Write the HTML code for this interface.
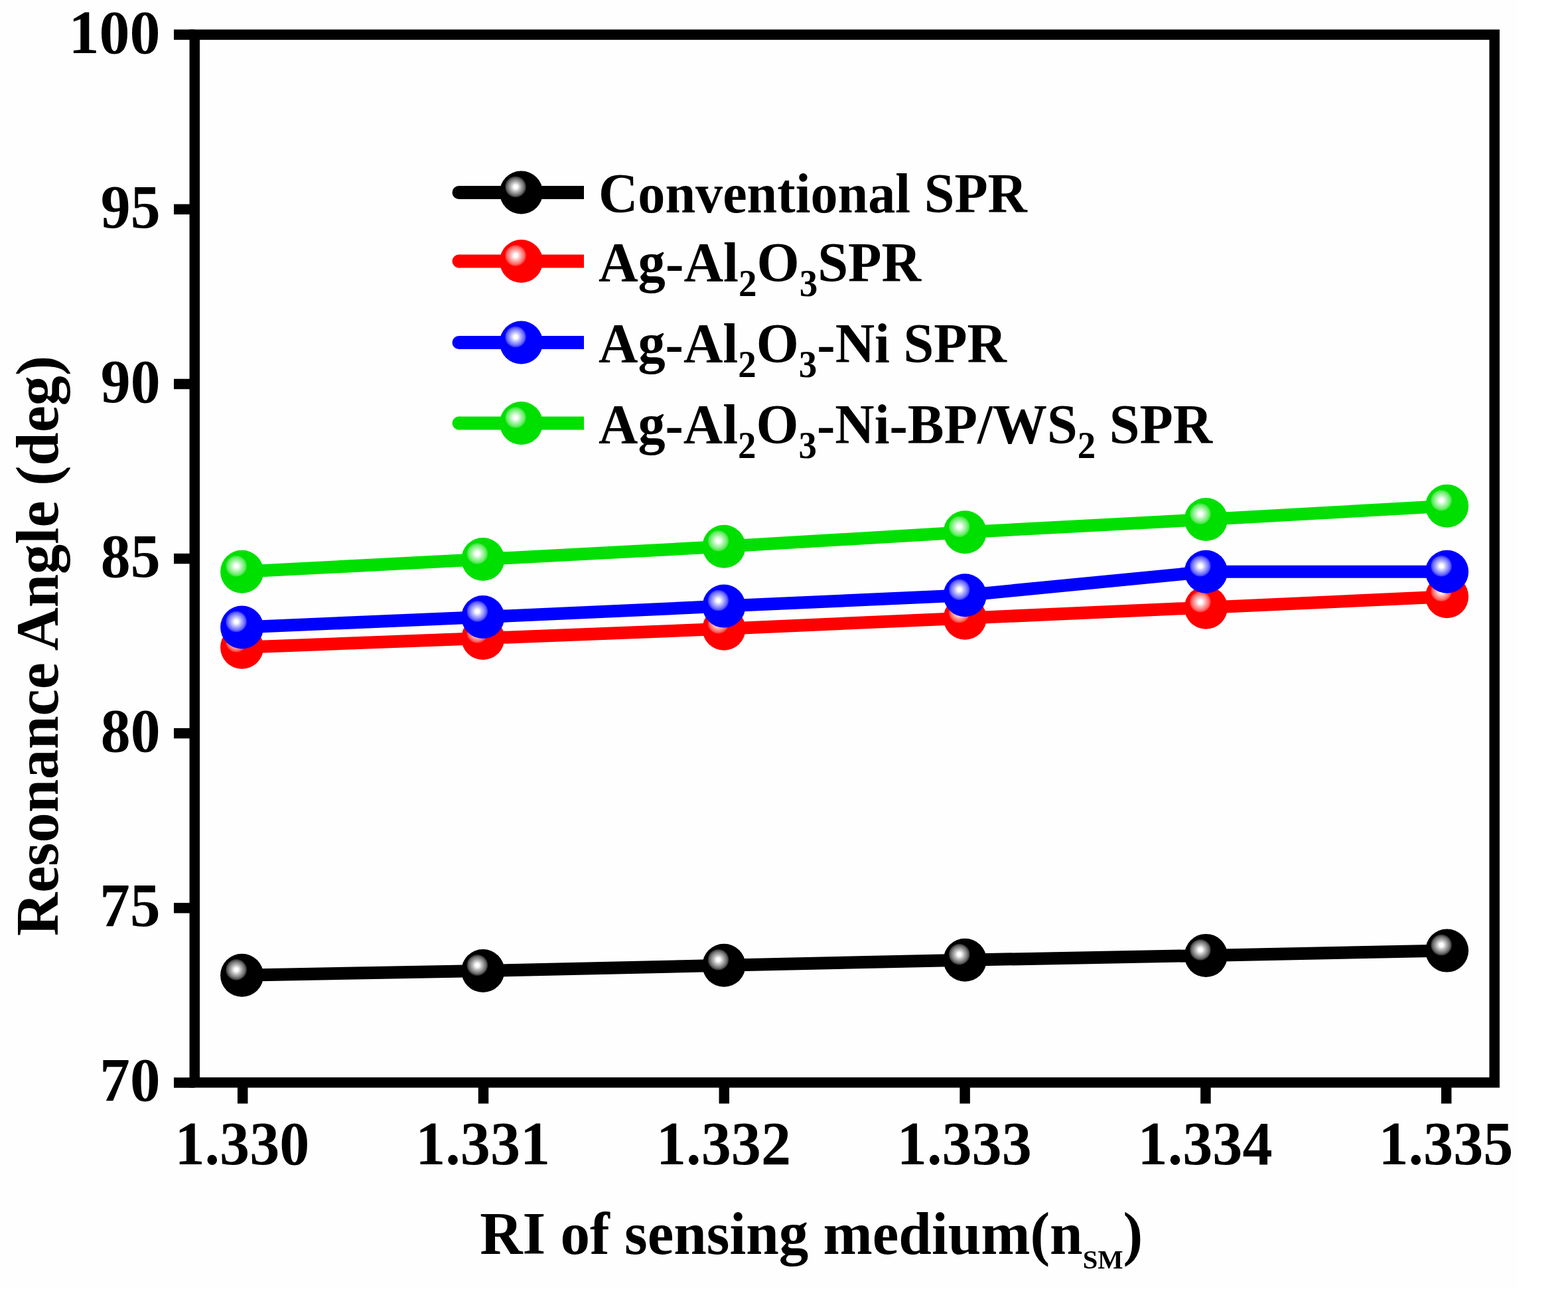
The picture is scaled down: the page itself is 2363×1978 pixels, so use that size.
<!DOCTYPE html>
<html><head><meta charset="utf-8"><title>Resonance Angle vs RI</title>
<style>html,body{margin:0;padding:0;background:#fff;} svg{display:block}</style></head>
<body><svg width="2363" height="1978" viewBox="0 0 2363 1978">
<rect width="2363" height="1978" fill="#fff"/>
<rect width="2288" height="1940" fill="#fefefe"/>
<defs>
<radialGradient id="hl" cx="0.5" cy="0.5" r="0.5">
<stop offset="0" stop-color="#fff" stop-opacity="1"/>
<stop offset="0.17" stop-color="#fff" stop-opacity="1"/>
<stop offset="0.3" stop-color="#fff" stop-opacity="0.87"/>
<stop offset="0.46" stop-color="#fff" stop-opacity="0.72"/>
<stop offset="0.62" stop-color="#fff" stop-opacity="0.58"/>
<stop offset="0.78" stop-color="#fff" stop-opacity="0.44"/>
<stop offset="0.92" stop-color="#fff" stop-opacity="0.27"/>
<stop offset="1" stop-color="#fff" stop-opacity="0.1"/>
</radialGradient>
</defs>
<polyline points="364.6,1469.3 727.8,1462.5 1091.0,1454.3 1454.2,1446.2 1817.4,1439.4 2180.6,1432.1" fill="none" stroke="#000000" stroke-width="19" stroke-linejoin="round"/>
<circle cx="364.6" cy="1469.3" r="32.5" fill="#000000"/><circle cx="356.1" cy="1460.8" r="16" fill="url(#hl)"/>
<circle cx="727.8" cy="1462.5" r="32.5" fill="#000000"/><circle cx="719.3" cy="1454.0" r="16" fill="url(#hl)"/>
<circle cx="1091.0" cy="1454.3" r="32.5" fill="#000000"/><circle cx="1082.5" cy="1445.8" r="16" fill="url(#hl)"/>
<circle cx="1454.2" cy="1446.2" r="32.5" fill="#000000"/><circle cx="1445.7" cy="1437.7" r="16" fill="url(#hl)"/>
<circle cx="1817.4" cy="1439.4" r="32.5" fill="#000000"/><circle cx="1808.9" cy="1430.9" r="16" fill="url(#hl)"/>
<circle cx="2180.6" cy="1432.1" r="32.5" fill="#000000"/><circle cx="2172.1" cy="1423.6" r="16" fill="url(#hl)"/>
<polyline points="364.6,975.3 727.8,961.5 1091.0,947.3 1454.2,931.2 1817.4,915.2 2180.6,898.8" fill="none" stroke="#ff0000" stroke-width="19" stroke-linejoin="round"/>
<circle cx="364.6" cy="975.3" r="32.5" fill="#ff0000"/><circle cx="356.1" cy="966.8" r="16" fill="url(#hl)"/>
<circle cx="727.8" cy="961.5" r="32.5" fill="#ff0000"/><circle cx="719.3" cy="953.0" r="16" fill="url(#hl)"/>
<circle cx="1091.0" cy="947.3" r="32.5" fill="#ff0000"/><circle cx="1082.5" cy="938.8" r="16" fill="url(#hl)"/>
<circle cx="1454.2" cy="931.2" r="32.5" fill="#ff0000"/><circle cx="1445.7" cy="922.7" r="16" fill="url(#hl)"/>
<circle cx="1817.4" cy="915.2" r="32.5" fill="#ff0000"/><circle cx="1808.9" cy="906.7" r="16" fill="url(#hl)"/>
<circle cx="2180.6" cy="898.8" r="32.5" fill="#ff0000"/><circle cx="2172.1" cy="890.3" r="16" fill="url(#hl)"/>
<polyline points="364.6,945.0 727.8,929.5 1091.0,913.1 1454.2,896.7 1817.4,861.3 2180.6,861.3" fill="none" stroke="#0000ff" stroke-width="19" stroke-linejoin="round"/>
<circle cx="364.6" cy="945.0" r="32.5" fill="#0000ff"/><circle cx="356.1" cy="936.5" r="16" fill="url(#hl)"/>
<circle cx="727.8" cy="929.5" r="32.5" fill="#0000ff"/><circle cx="719.3" cy="921.0" r="16" fill="url(#hl)"/>
<circle cx="1091.0" cy="913.1" r="32.5" fill="#0000ff"/><circle cx="1082.5" cy="904.6" r="16" fill="url(#hl)"/>
<circle cx="1454.2" cy="896.7" r="32.5" fill="#0000ff"/><circle cx="1445.7" cy="888.2" r="16" fill="url(#hl)"/>
<circle cx="1817.4" cy="861.3" r="32.5" fill="#0000ff"/><circle cx="1808.9" cy="852.8" r="16" fill="url(#hl)"/>
<circle cx="2180.6" cy="861.3" r="32.5" fill="#0000ff"/><circle cx="2172.1" cy="852.8" r="16" fill="url(#hl)"/>
<polyline points="364.6,861.3 727.8,842.5 1091.0,823.3 1454.2,801.8 1817.4,782.5 2180.6,762.3" fill="none" stroke="#00e000" stroke-width="19" stroke-linejoin="round"/>
<circle cx="364.6" cy="861.3" r="32.5" fill="#00e000"/><circle cx="356.1" cy="852.8" r="16" fill="url(#hl)"/>
<circle cx="727.8" cy="842.5" r="32.5" fill="#00e000"/><circle cx="719.3" cy="834.0" r="16" fill="url(#hl)"/>
<circle cx="1091.0" cy="823.3" r="32.5" fill="#00e000"/><circle cx="1082.5" cy="814.8" r="16" fill="url(#hl)"/>
<circle cx="1454.2" cy="801.8" r="32.5" fill="#00e000"/><circle cx="1445.7" cy="793.3" r="16" fill="url(#hl)"/>
<circle cx="1817.4" cy="782.5" r="32.5" fill="#00e000"/><circle cx="1808.9" cy="774.0" r="16" fill="url(#hl)"/>
<circle cx="2180.6" cy="762.3" r="32.5" fill="#00e000"/><circle cx="2172.1" cy="753.8" r="16" fill="url(#hl)"/>
<rect x="293.3" y="52.2" width="1958.9" height="1578.6" fill="none" stroke="#000" stroke-width="15.5"/>
<line x1="262" y1="1631.0" x2="293.3" y2="1631.0" stroke="#000" stroke-width="15.5"/>
<text transform="translate(241.5,1658.3) scale(0.9800,1)" text-anchor="end" style="font-family:'Liberation Serif','Times New Roman',serif;font-weight:bold;font-size:93px">70</text>
<line x1="262" y1="1367.9" x2="293.3" y2="1367.9" stroke="#000" stroke-width="15.5"/>
<text transform="translate(241.5,1395.2) scale(0.9800,1)" text-anchor="end" style="font-family:'Liberation Serif','Times New Roman',serif;font-weight:bold;font-size:93px">75</text>
<line x1="262" y1="1104.7" x2="293.3" y2="1104.7" stroke="#000" stroke-width="15.5"/>
<text transform="translate(241.5,1132.0) scale(0.9650,1)" text-anchor="end" style="font-family:'Liberation Serif','Times New Roman',serif;font-weight:bold;font-size:93px">80</text>
<line x1="262" y1="841.6" x2="293.3" y2="841.6" stroke="#000" stroke-width="15.5"/>
<text transform="translate(241.5,868.9) scale(0.9650,1)" text-anchor="end" style="font-family:'Liberation Serif','Times New Roman',serif;font-weight:bold;font-size:93px">85</text>
<line x1="262" y1="578.5" x2="293.3" y2="578.5" stroke="#000" stroke-width="15.5"/>
<text transform="translate(241.5,605.8) scale(0.9650,1)" text-anchor="end" style="font-family:'Liberation Serif','Times New Roman',serif;font-weight:bold;font-size:93px">90</text>
<line x1="262" y1="315.3" x2="293.3" y2="315.3" stroke="#000" stroke-width="15.5"/>
<text transform="translate(241.5,342.6) scale(0.9650,1)" text-anchor="end" style="font-family:'Liberation Serif','Times New Roman',serif;font-weight:bold;font-size:93px">95</text>
<line x1="262" y1="52.2" x2="293.3" y2="52.2" stroke="#000" stroke-width="15.5"/>
<text transform="translate(241.5,79.5) scale(0.9900,1)" text-anchor="end" style="font-family:'Liberation Serif','Times New Roman',serif;font-weight:bold;font-size:93px">100</text>
<line x1="365.7" y1="1630.8" x2="365.7" y2="1662.5" stroke="#000" stroke-width="15.5"/>
<text transform="translate(364.9,1754.3) scale(0.9700,1)" text-anchor="middle" style="font-family:'Liberation Serif','Times New Roman',serif;font-weight:bold;font-size:93px">1.330</text>
<line x1="728.5" y1="1630.8" x2="728.5" y2="1662.5" stroke="#000" stroke-width="15.5"/>
<text transform="translate(727.7,1754.3) scale(0.9700,1)" text-anchor="middle" style="font-family:'Liberation Serif','Times New Roman',serif;font-weight:bold;font-size:93px">1.331</text>
<line x1="1091.3" y1="1630.8" x2="1091.3" y2="1662.5" stroke="#000" stroke-width="15.5"/>
<text transform="translate(1090.5,1754.3) scale(0.9700,1)" text-anchor="middle" style="font-family:'Liberation Serif','Times New Roman',serif;font-weight:bold;font-size:93px">1.332</text>
<line x1="1454.1" y1="1630.8" x2="1454.1" y2="1662.5" stroke="#000" stroke-width="15.5"/>
<text transform="translate(1453.3,1754.3) scale(0.9700,1)" text-anchor="middle" style="font-family:'Liberation Serif','Times New Roman',serif;font-weight:bold;font-size:93px">1.333</text>
<line x1="1816.9" y1="1630.8" x2="1816.9" y2="1662.5" stroke="#000" stroke-width="15.5"/>
<text transform="translate(1816.1,1754.3) scale(0.9700,1)" text-anchor="middle" style="font-family:'Liberation Serif','Times New Roman',serif;font-weight:bold;font-size:93px">1.334</text>
<line x1="2179.7" y1="1630.8" x2="2179.7" y2="1662.5" stroke="#000" stroke-width="15.5"/>
<text transform="translate(2178.9,1754.3) scale(0.9700,1)" text-anchor="middle" style="font-family:'Liberation Serif','Times New Roman',serif;font-weight:bold;font-size:93px">1.335</text>
<text transform="translate(1222.7,1888.7) scale(0.99,1)" text-anchor="middle" style="font-family:'Liberation Serif','Times New Roman',serif;font-weight:bold;font-size:90px">RI of sensing medium(n<tspan dy="22.3" style="font-size:41px">SM</tspan><tspan dy="-22.3">)</tspan></text>
<text transform="translate(86.5,973) rotate(-90) scale(1.005,1)" text-anchor="middle" style="font-family:'Liberation Serif','Times New Roman',serif;font-weight:bold;font-size:90px">Resonance Angle (deg)</text>
<line x1="691.5" y1="290" x2="880" y2="290" stroke="#000000" stroke-width="20"/>
<circle cx="691.5" cy="290" r="10" fill="#000000"/>
<circle cx="785.5" cy="290.0" r="32.5" fill="#000000"/><circle cx="777.0" cy="281.5" r="16" fill="url(#hl)"/>
<text transform="translate(902.0,320.0) scale(0.9780,1)" style="font-family:'Liberation Serif','Times New Roman',serif;font-weight:bold;font-size:84px">Conventional SPR</text>
<line x1="691.5" y1="393.5" x2="880" y2="393.5" stroke="#ff0000" stroke-width="20"/>
<circle cx="691.5" cy="393.5" r="10" fill="#ff0000"/>
<circle cx="785.5" cy="393.5" r="32.5" fill="#ff0000"/><circle cx="777.0" cy="385.0" r="16" fill="url(#hl)"/>
<text transform="translate(902.0,423.5) scale(0.9830,1)" style="font-family:'Liberation Serif','Times New Roman',serif;font-weight:bold;font-size:84px">Ag-Al<tspan dy="22" style="font-size:56px">2</tspan><tspan dy="-22">O</tspan><tspan dy="22" style="font-size:56px">3</tspan><tspan dy="-22">SPR</tspan></text>
<line x1="691.5" y1="516" x2="880" y2="516" stroke="#0000ff" stroke-width="20"/>
<circle cx="691.5" cy="516" r="10" fill="#0000ff"/>
<circle cx="785.5" cy="516.0" r="32.5" fill="#0000ff"/><circle cx="777.0" cy="507.5" r="16" fill="url(#hl)"/>
<text transform="translate(902.0,546.0) scale(0.9800,1)" style="font-family:'Liberation Serif','Times New Roman',serif;font-weight:bold;font-size:84px">Ag-Al<tspan dy="22" style="font-size:56px">2</tspan><tspan dy="-22">O</tspan><tspan dy="22" style="font-size:56px">3</tspan><tspan dy="-22">-Ni SPR</tspan></text>
<line x1="691.5" y1="637.5" x2="880" y2="637.5" stroke="#00e000" stroke-width="20"/>
<circle cx="691.5" cy="637.5" r="10" fill="#00e000"/>
<circle cx="785.5" cy="637.5" r="32.5" fill="#00e000"/><circle cx="777.0" cy="629.0" r="16" fill="url(#hl)"/>
<text transform="translate(902.0,667.5) scale(0.9790,1)" style="font-family:'Liberation Serif','Times New Roman',serif;font-weight:bold;font-size:84px">Ag-Al<tspan dy="22" style="font-size:56px">2</tspan><tspan dy="-22">O</tspan><tspan dy="22" style="font-size:56px">3</tspan><tspan dy="-22">-Ni-BP/WS</tspan><tspan dy="22" style="font-size:56px">2</tspan><tspan dy="-22"> SPR</tspan></text>
</svg></body></html>
